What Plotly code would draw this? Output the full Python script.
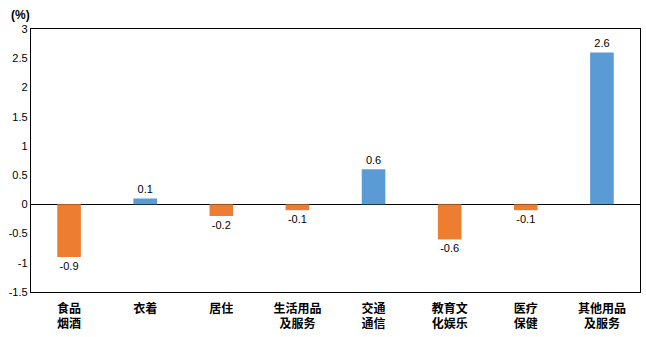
import plotly.graph_objects as go

categories = ["食品<br>烟酒", "衣着", "居住", "生活用品<br>及服务", "交通<br>通信", "教育文<br>化娱乐", "医疗<br>保健", "其他用品<br>及服务"]
values = [-0.9, 0.1, -0.2, -0.1, 0.6, -0.6, -0.1, 2.6]
tick_vals = [-1.5, -1, -0.5, 0, 0.5, 1, 1.5, 2, 2.5, 3]
tick_text = ["-1.5", "-1", "-0.5", "0", "0.5", "1", "1.5", "2", "2.5", "3"]

BLUE = "#5B9BD5"
ORANGE = "#ED7D31"
colors = [BLUE if v >= 0 else ORANGE for v in values]

fig = go.Figure()
fig.add_trace(go.Bar(
    x=list(range(len(categories))), y=values,
    marker=dict(color=colors, line=dict(width=0)),
    width=0.31,
    text=[f"{v:g}" for v in values],
    textposition="outside",
    textfont=dict(family="Liberation Sans, Arial", size=11, color="#000"),
    cliponaxis=False,
))

fig.update_layout(
    width=646, height=337,
    margin=dict(l=31, r=6, t=29, b=45),
    paper_bgcolor="white", plot_bgcolor="white",
    showlegend=False,
    xaxis=dict(
        range=[-0.5, 7.5],
        tickvals=list(range(len(categories))), ticktext=categories,
        tickfont=dict(family="Noto Sans CJK SC", size=12, color="#000", weight="bold"),
        showgrid=False, zeroline=False,
        showline=True, linecolor="#000", linewidth=1.3, mirror=True,
        ticks="", ticklen=0, ticklabelstandoff=5,
    ),
    yaxis=dict(
        range=[-1.5, 3],
        tickvals=tick_vals, ticktext=tick_text,
        tickfont=dict(family="Liberation Sans, Arial", size=11, color="#000"),
        showgrid=False,
        zeroline=True, zerolinecolor="#000", zerolinewidth=1.3,
        showline=True, linecolor="#000", linewidth=1.3, mirror=True,
        ticks="", ticklen=0,
    ),
    annotations=[dict(
        text="<b>(%)</b>", x=0, xref="paper", xanchor="right", xshift=1,
        y=1, yref="paper", yanchor="bottom", yshift=5,
        showarrow=False, font=dict(family="Liberation Sans, Arial", size=12, color="#000"),
    )],
)

fig.write_html("out.html")
